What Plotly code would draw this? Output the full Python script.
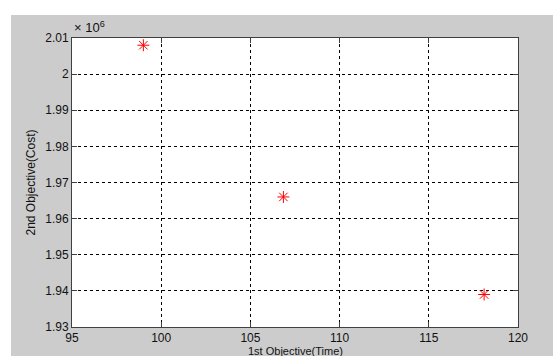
import plotly.graph_objects as go

# Pareto front solutions: time vs. cost
time_obj = [99.0, 106.85, 118.1]
cost_obj = [2008000, 1966000, 1939000]

x_ticks = [95, 100, 105, 110, 115, 120]
y_ticks = [1.93, 1.94, 1.95, 1.96, 1.97, 1.98, 1.99, 2.0, 2.01]
y_tick_text = ["1.93", "1.94", "1.95", "1.96", "1.97", "1.98", "1.99", "2", "2.01"]
scale = 1e6

FONT = "Liberation Sans, Arial, sans-serif"
GRAY = "#cccccc"

fig = go.Figure()
fig.add_trace(go.Scatter(
    x=time_obj,
    y=[c / scale for c in cost_obj],
    mode="markers",
    marker=dict(symbol="asterisk-open", size=10, color="red",
                line=dict(color="red", width=1)),
    showlegend=False,
))

axis_common = dict(
    showline=True, linecolor="#404040", linewidth=1, mirror="allticks",
    ticks="inside", ticklen=5, tickcolor="#404040",
    showgrid=True, gridcolor="black", gridwidth=1, griddash="3px,3px",
    zeroline=False,
    tickfont=dict(family=FONT, size=12, color="#111111"),
)

fig.update_xaxes(range=[95, 120], tickvals=x_ticks, **axis_common)
fig.update_yaxes(range=[1.93, 2.01], tickvals=y_ticks, ticktext=y_tick_text, **axis_common)

fig.update_layout(
    width=553, height=356,
    margin=dict(l=72, r=35, t=38, b=29),
    paper_bgcolor=GRAY,
    plot_bgcolor="white",
    font=dict(family=FONT, size=12, color="#111111"),
    shapes=[
        # white strip along the top and the left edge of the figure window
        dict(type="rect", xref="paper", yref="paper", x0=-0.2, x1=1.2,
             y0=1.0 + 23 / 289, y1=1.3, fillcolor="white", line=dict(width=0),
             layer="below"),
        dict(type="rect", xref="paper", yref="paper", x0=-0.2, x1=-61 / 446,
             y0=-0.2, y1=1.3, fillcolor="white", line=dict(width=0),
             layer="below"),
    ],
    annotations=[
        dict(text="× 10<sup>6</sup>", xref="paper", yref="paper",
             x=0.0, y=1.0, xanchor="left", yanchor="bottom", yshift=1,
             showarrow=False, font=dict(family=FONT, size=13, color="#111111")),
        dict(text="1st Objective(Time)", xref="paper", yref="paper",
             x=0.5, y=0.0, xanchor="center", yanchor="top", yshift=-16,
             showarrow=False, font=dict(family=FONT, size=11, color="#111111")),
        dict(text="2nd Objective(Cost)", xref="paper", yref="paper",
             x=0.0, y=0.5, xanchor="center", yanchor="middle", xshift=-42,
             textangle=-90, showarrow=False,
             font=dict(family=FONT, size=12, color="#111111")),
    ],
)

fig.write_html("out.html")
